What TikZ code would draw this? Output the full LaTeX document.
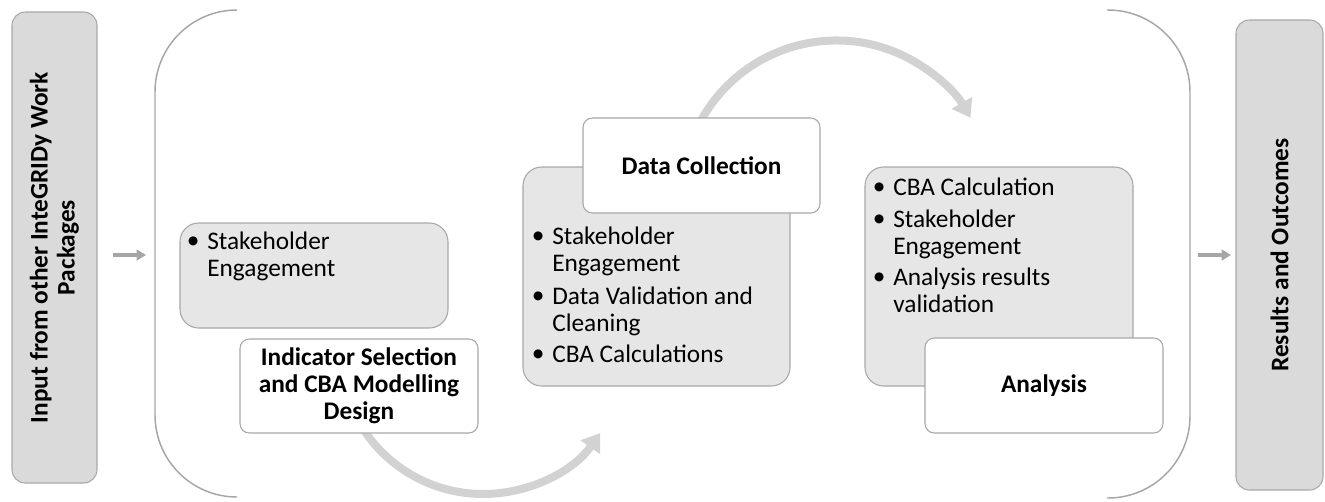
\documentclass[tikz,border=0pt]{standalone}
\usepackage{fontspec}
\setmainfont{Carlito}
\usetikzlibrary{arrows.meta}
\definecolor{boxgray}{HTML}{E6E6E6}
\definecolor{sidegray}{HTML}{DADADA}
\definecolor{edgegray}{HTML}{A8A8A8}
\definecolor{curvegray}{HTML}{D2D2D2}
\definecolor{linegray}{HTML}{A6A6A6}
\newcommand\bulitem[1]{\makebox[21pt][c]{\raisebox{0.5pt}{\textbullet}}\begin{tabular}[t]{@{}l@{}}#1\end{tabular}}
\begin{document}
\begin{tikzpicture}[x=0.75pt,y=-0.75pt,
  font=\fontsize{19}{20.25}\selectfont,
  graybox/.style={draw=edgegray, fill=boxgray, line width=0.8pt, rounded corners=14pt, inner sep=0pt},
  whitebox/.style={draw=edgegray, fill=white, line width=0.8pt, rounded corners=7pt, inner sep=0pt},
  sidebox/.style={draw=edgegray, fill=sidegray, line width=0.8pt, rounded corners=10pt, inner sep=0pt},
  bracket/.style={draw=linegray, line width=1.1pt, rounded corners=61.5pt},
  smallarr/.style={draw=linegray, line width=3pt, -{Triangle[width=8pt,length=7pt]}},
  curvearr/.style={draw=curvegray, line width=6pt, -{Triangle[width=17pt,length=13pt]}},
  bultext/.style={inner sep=0pt, anchor=base west},
  title/.style={font=\fontsize{19}{20.25}\selectfont\bfseries, align=center, inner sep=0pt}]
\useasboundingbox (0,0) rectangle (1325,501);

% outer bracket shapes
\draw[bracket] (237,10) -- (155,10) -- (155,497) -- (237,497);
\draw[bracket] (1107,10) -- (1190,10) -- (1190,498) -- (1107,498);

% side boxes
\node[sidebox, minimum width=63.75pt, minimum height=353.25pt] (in) at (54.5,247.5) {};
\node[rotate=90, title] (intext) at (in.center) {Input from other InteGRIDy Work\\Packages};
\node[sidebox, minimum width=65.25pt, minimum height=352.5pt] (out) at (1279.5,255) {};
\node[rotate=90, title] (outtext) at (out.center) {Results and Outcomes};

% small arrows
\coordinate (sa1) at (113,255);
\coordinate (sa2) at (146,255);
\coordinate (sb1) at (1198,255);
\coordinate (sb2) at (1231,255);
\draw[smallarr] (sa1) -- (sa2);
\draw[smallarr] (sb1) -- (sb2);

% gray content boxes
\node[graybox, minimum width=201pt, minimum height=78.75pt] (g1) at (314,275.5) {};
\node[graybox, minimum width=200.25pt, minimum height=164.25pt] (g2) at (656.5,276.5) {};
\node[graybox, minimum width=201pt, minimum height=164.25pt] (g3) at (999,276.5) {};

% curved arrows
\coordinate (c1) at (483,351);
\coordinate (c2) at (836.5,195.2);
\draw[curvearr] ([shift={(150:143)}]c1) arc[start angle=150, end angle=35, radius=143];
\draw[curvearr] ([shift={(206:154.7)}]c2) arc[start angle=206, end angle=330, radius=154.7];

% white title boxes
\node[whitebox, minimum width=178.5pt, minimum height=70.5pt] (w1) at (359,386) {};
\node[whitebox, minimum width=177.75pt, minimum height=71.25pt] (w2) at (701.5,165.5) {};
\node[whitebox, minimum width=178.5pt, minimum height=71.25pt] (w3) at (1044,385.5) {};

\node[title] (t1) at (w1.center) {Indicator Selection\\and CBA Modelling\\Design};
\node[title] (t2) at (w2.center) {Data Collection};
\node[title] (t3) at (w3.center) {Analysis};

% bullet texts
\node[bultext] (b11) at (179,249) {\bulitem{Stakeholder\\Engagement}};

\node[bultext] (b21) at (524,244) {\bulitem{Stakeholder\\Engagement}};
\node[bultext] (b22) at (524,304) {\bulitem{Data Validation and\\Cleaning}};
\node[bultext] (b23) at (524,362) {\bulitem{CBA Calculations}};

\node[bultext] (b31) at (865,195) {\bulitem{CBA Calculation}};
\node[bultext] (b32) at (865,227) {\bulitem{Stakeholder\\Engagement}};
\node[bultext] (b33) at (865,285) {\bulitem{Analysis results\\validation}};
\end{tikzpicture}
\end{document}
